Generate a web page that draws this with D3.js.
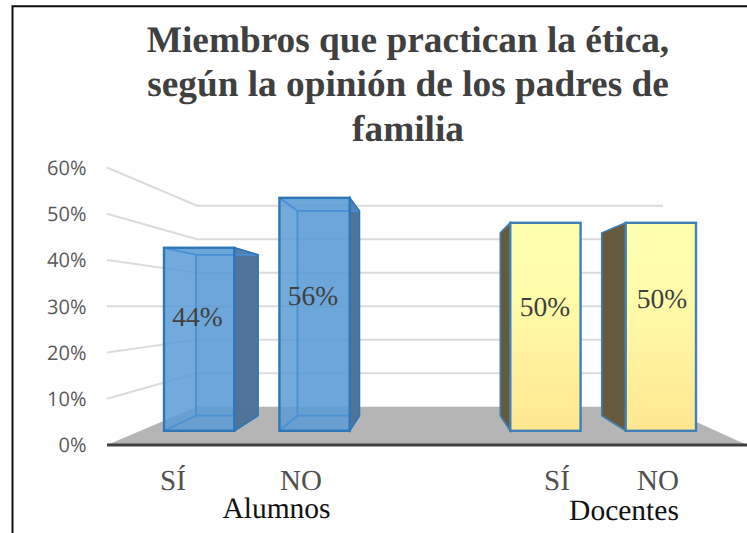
<!DOCTYPE html>
<html><head><meta charset="utf-8">
<script src="https://cdn.jsdelivr.net/npm/d3@7"></script>
<style>
html,body{margin:0;padding:0;background:#fff;overflow:hidden}
svg{display:block;text-rendering:geometricPrecision}
.t{font-family:"Liberation Serif",serif}
</style></head><body><div id="c"></div>
<script>
const titleLines = ["Miembros que practican la ética,","según la opinión de los padres de","familia"];
const groups = ["Alumnos","Docentes"];
const categories = ["SÍ","NO","SÍ","NO"];
const barKeys = ["a-si","a-no","d-si","d-no"];
const slots = ["a-si","a-no","gap","d-si","d-no"];
const values = [44,56,50,50];
const seriesGroup = [0,0,1,1];
const ticks = [0,10,20,30,40,50,60];

const W=747,H=533;
const svg=d3.select("#c").append("svg").attr("width",W).attr("height",H);
const defs=svg.append("defs");
const g=defs.append("linearGradient").attr("id","yel").attr("x1",0).attr("x2",0).attr("y1",0).attr("y2",1);
g.append("stop").attr("offset","0%").attr("stop-color","#ffffb0");
g.append("stop").attr("offset","35%").attr("stop-color","#fffcaa");
g.append("stop").attr("offset","100%").attr("stop-color","#ffe690");
defs.append("filter").attr("id","soft").append("feGaussianBlur").attr("stdDeviation",0.45);

// scales: wall front edge, wall back edge, bar front plane, bar back plane
const yWallFront=d3.scaleLinear().domain([0,60]).range([445,167.5]);
const yWallBack=d3.scaleLinear().domain([0,60]).range([406.8,205.7]);
const yBarFront=d3.scaleLinear().domain([0,60]).range([430.8,181.2]);
const yBarBack=d3.scaleLinear().domain([0,60]).range([415.7,196.3]);
const xFront=d3.scalePoint().domain(slots).range([164,625.7]);
const xBack=d3.scalePoint().domain(slots).range([196,601.7]);
const frontW=70.3, backW=62;
const wallL=107, wallM=197, wallR=663, floorR=747, axisY=yWallFront(0);

const art=svg.append("g").attr("filter","url(#soft)");

// chart frame
art.append("path").attr("d",`M12.5,${H}V6.2H${W}`).attr("fill","none").attr("stroke","#111").attr("stroke-width",2);

// floor
art.append("path").attr("fill","#b5b5b5")
 .attr("d",d3.line()([[wallL,axisY],[wallM,yWallBack(0)],[wallR,yWallBack(0)],[floorR,axisY]]));

// gridlines
const grid=art.append("g").attr("fill","none").attr("stroke","#dcdcdc").attr("stroke-width",2);
ticks.filter(t=>t>0).forEach(t=>{
  grid.append("path").attr("d",d3.line()([[wallL,yWallFront(t)],[wallM,yWallBack(t)],[wallR,yWallBack(t)]]));
});

// axis line
art.append("line").attr("x1",wallL).attr("x2",W).attr("y1",axisY).attr("y2",axisY)
 .attr("stroke","#404040").attr("stroke-width",3);

// bars
const line=d3.line();
values.forEach((v,i)=>{
  const k=barKeys[i];
  const fx=xFront(k), bx=xBack(k), ft=yBarFront(v), fb=yBarFront(0), bt=yBarBack(v), bb=yBarBack(0);
  const b=art.append("g");
  if(seriesGroup[i]===0){
    const edge="#2f76b8", inner="#4a90d4";
    b.append("path").attr("d",line([[bx,bt],[bx+backW,bt],[bx+backW,bb],[bx,bb]])+"Z").attr("fill","#5b9bd5").attr("fill-opacity",.25);
    b.append("path").attr("d",line([[fx+frontW,ft],[bx+backW,bt],[bx+backW,bb],[fx+frontW,fb]])+"Z").attr("fill","#4d7198").attr("fill-opacity",.97).attr("stroke","#3f77ad").attr("stroke-width",1.5);
    b.append("path").attr("d",line([[fx,ft],[fx+frontW,ft],[bx+backW,bt],[bx,bt]])+"Z").attr("fill","#5b9bd5").attr("fill-opacity",.3);
    b.append("rect").attr("x",fx).attr("y",ft).attr("width",frontW).attr("height",fb-ft).attr("fill","#5b9bd5").attr("fill-opacity",.85);
    b.append("path").attr("d",`M${bx},${bb}V${bt}H${bx+backW}M${bx},${bb}H${fx+frontW}M${bx},${bb}L${fx},${fb}M${bx},${bt}L${fx},${ft}`).attr("fill","none").attr("stroke",inner).attr("stroke-width",1.8);
    b.append("path").attr("d",`M${fx+frontW},${ft}L${bx+backW},${bt}V${bb}L${fx+frontW},${fb}`).attr("fill","none").attr("stroke","#2f76b8").attr("stroke-width",1.4);
    b.append("rect").attr("x",fx).attr("y",ft).attr("width",frontW).attr("height",fb-ft).attr("fill","none").attr("stroke",edge).attr("stroke-width",2.4);
  } else {
    b.append("path").attr("d",line([[bx,bt],[fx,ft],[fx,fb],[bx,bb]])+"Z").attr("fill","#655a3a").attr("stroke","#3f80b5").attr("stroke-width",1.6);
    b.append("rect").attr("x",fx).attr("y",ft).attr("width",frontW).attr("height",fb-ft).attr("fill","url(#yel)").attr("stroke","#3f80b5").attr("stroke-width",2.4);
  }
});

// y axis
const yAxis=d3.axisLeft(yWallFront).tickValues(ticks).tickFormat(d=>d+"%").tickSize(0).tickPadding(0);
const ya=svg.append("g").attr("transform","translate(86.5,0.5)").call(yAxis);
ya.select(".domain").remove();
ya.selectAll("text").attr("font-family","'Open Sans',sans-serif").attr("font-size",20).attr("fill","#595959");

// data labels
const labelX=[197.5,313,545,662], labelY=[326,305,316,308];
svg.append("g").selectAll("text").data(values).join("text").attr("class","t")
 .attr("x",(d,i)=>labelX[i]).attr("y",(d,i)=>labelY[i]).attr("text-anchor","middle")
 .attr("font-size",27.5).attr("fill","#404040").text(d=>d+"%");

// category labels
const catX=[173,301,557,658];
svg.append("g").selectAll("text").data(categories).join("text").attr("class","t")
 .attr("x",(d,i)=>catX[i]).attr("y",490).attr("text-anchor","middle")
 .attr("font-size",29).attr("fill","#505050").text(d=>d);

// group labels
const groupX=[276.5,624], groupY=[517.5,520];
svg.append("g").selectAll("text").data(groups).join("text").attr("class","t")
 .attr("x",(d,i)=>groupX[i]).attr("y",(d,i)=>groupY[i]).attr("text-anchor","middle")
 .attr("font-size",29.5).attr("fill","#111").text(d=>d);

// title
const titleY=[52,96,141];
svg.append("g").selectAll("text").data(titleLines).join("text").attr("class","t")
 .attr("x",408).attr("y",(d,i)=>titleY[i]).attr("text-anchor","middle")
 .attr("font-size",37.3).attr("font-weight","bold").attr("fill","#404040").text(d=>d);
</script></body></html>
